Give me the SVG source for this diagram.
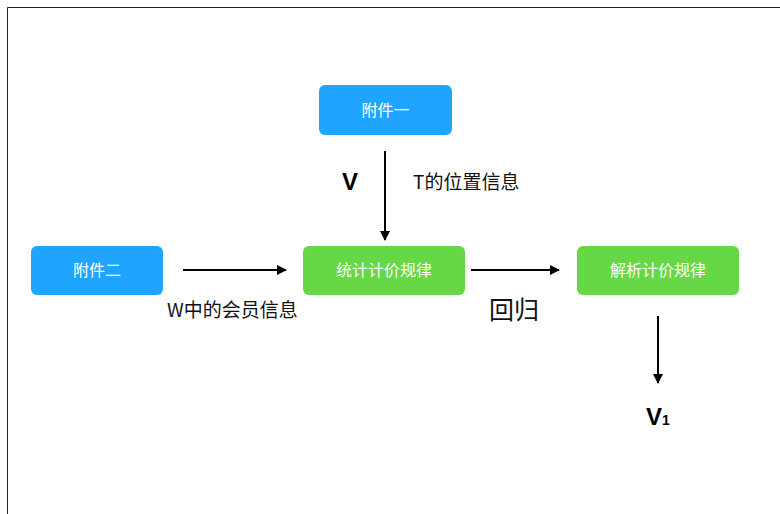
<svg xmlns="http://www.w3.org/2000/svg" width="780" height="514" viewBox="0 0 780 514">
<defs>
<style>
.blue{fill:#1FA5FD}
.green{fill:#66D846}
.nt{fill:#fff;font-family:"Noto Sans CJK SC","Liberation Sans",sans-serif;font-size:16px;text-anchor:middle}
.lbl{fill:#111;font-family:"Noto Sans CJK SC","Liberation Sans",sans-serif;font-size:19px}
.big{fill:#000;font-family:"Liberation Sans","Noto Sans CJK SC",sans-serif;font-size:24px;font-weight:bold}
.edge{stroke:#000;stroke-width:2;fill:none;marker-end:url(#ah)}
</style>
<marker id="ah" viewBox="0 0 10 10" refX="9" refY="5" markerWidth="5" markerHeight="5" orient="auto" markerUnits="strokeWidth">
<path d="M0,0 L10,5 L0,10 z" fill="#000"/>
</marker>
</defs>
<rect width="780" height="514" fill="#fff"/>
<path d="M7.5,514 V7.5 H780" fill="none" stroke="#222" stroke-width="1"/>
<g id="fujian1"><rect class="blue" x="319" y="85" width="133" height="50" rx="6"/><text class="nt" x="385.5" y="116">附件一</text></g>
<g id="fujian2"><rect class="blue" x="31" y="246" width="132" height="49" rx="6"/><text class="nt" x="97" y="276">附件二</text></g>
<g id="tongji"><rect class="green" x="303" y="246" width="162" height="49" rx="6"/><text class="nt" x="384" y="276">统计计价规律</text></g>
<g id="jiexi"><rect class="green" x="577" y="246" width="162" height="49" rx="6"/><text class="nt" x="658" y="276">解析计价规律</text></g>
<g id="connectors">
<line class="edge" x1="385" y1="151" x2="385" y2="240"/>
<line class="edge" x1="183" y1="270" x2="286" y2="270"/>
<line class="edge" x1="471" y1="270" x2="559" y2="270"/>
<line class="edge" x1="658" y1="316" x2="658" y2="383"/>
</g>
<text class="big" x="342" y="190">V</text>
<text class="lbl" x="413" y="189">T的位置信息</text>
<text class="lbl" x="167" y="317">W中的会员信息</text>
<text class="lbl" x="489" y="319" style="font-size:25px">回归</text>
<text class="big" x="646" y="425">V<tspan style="font-size:14px">1</tspan></text>
</svg>
